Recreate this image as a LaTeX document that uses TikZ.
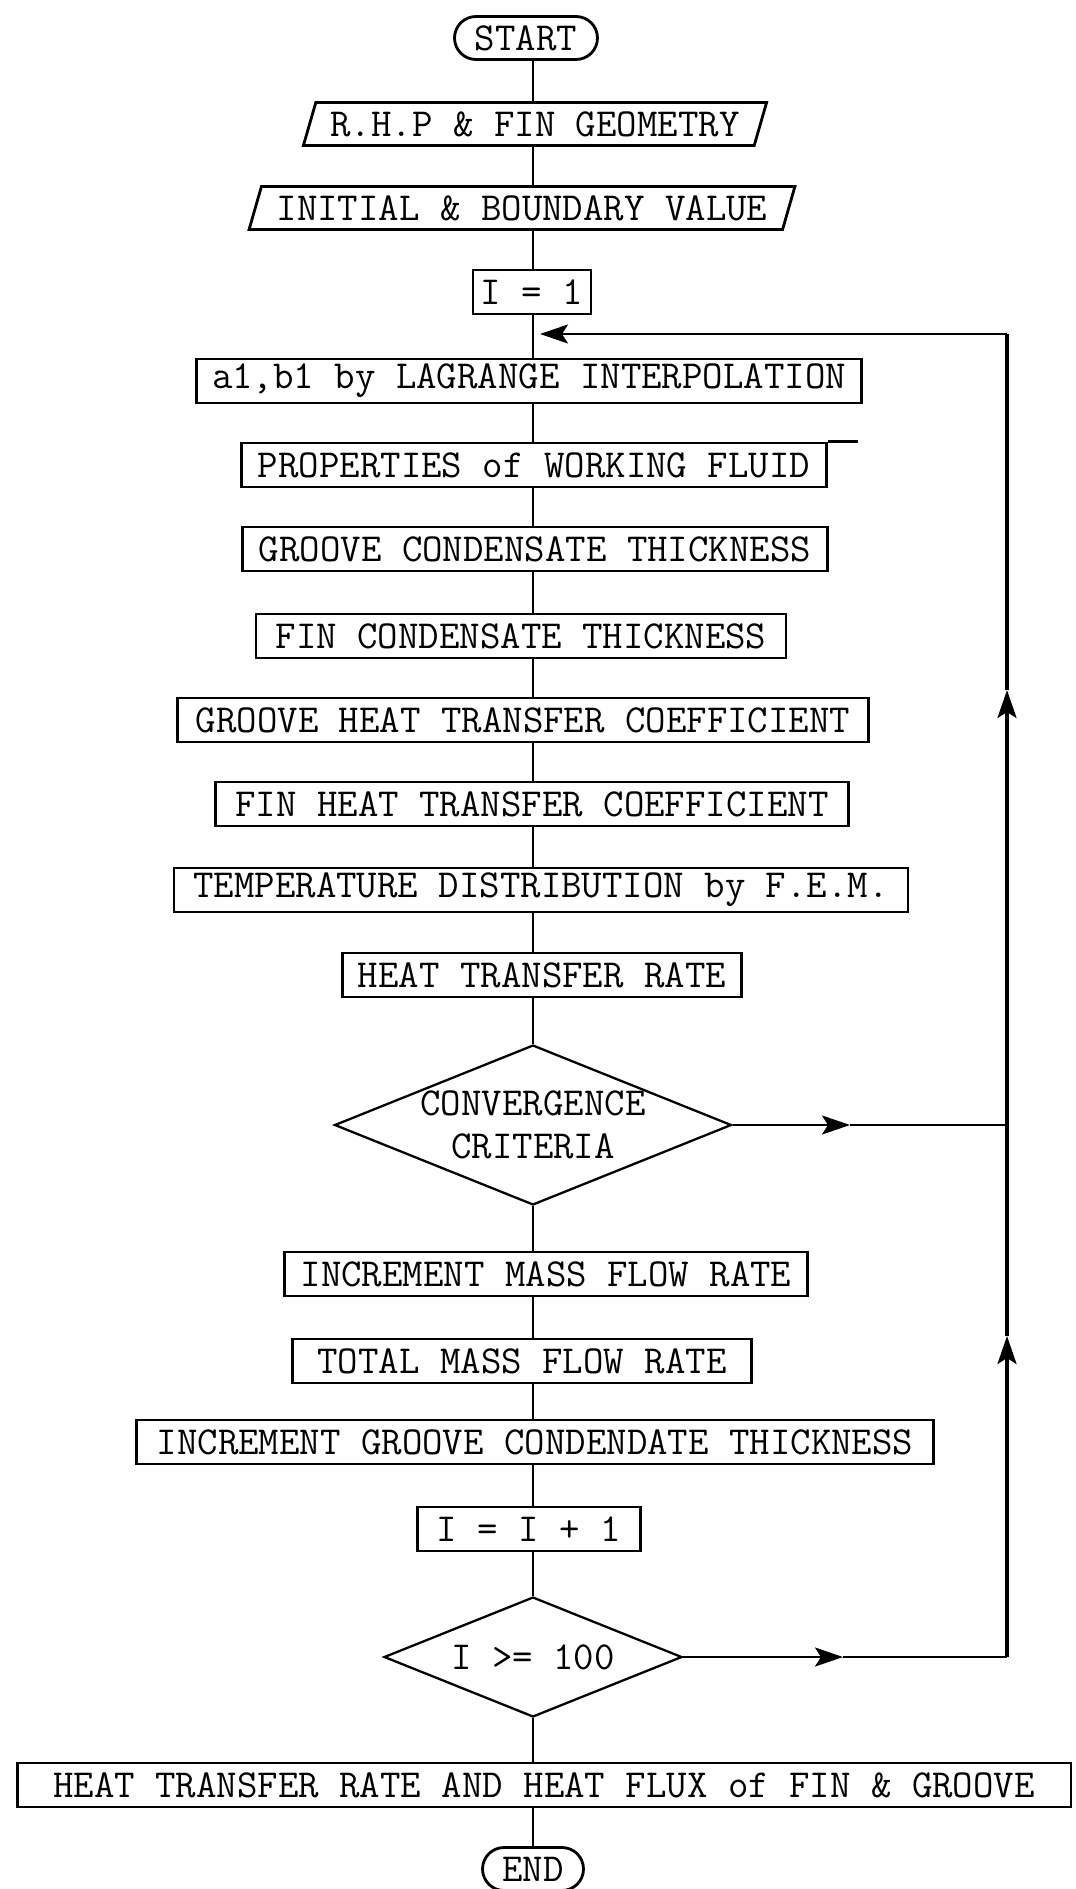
\documentclass[tikz,border=0pt]{standalone}
\usepackage{fontspec}
\usetikzlibrary{arrows.meta, shapes.geometric}
\newcommand{\flowfont}{\ttfamily\fontsize{22.6pt}{24.4pt}\selectfont}

\begin{document}
\begin{tikzpicture}[x=0.02cm, y=-0.02cm,
  >={Stealth[length=5.6mm, width=3.8mm, inset=1.2mm]},
  procbox/.style={draw, line width=1.6pt, minimum height=0.88cm,
    inner xsep=2pt, inner ysep=0pt, font=\flowfont},
  iobox/.style={draw, line width=1.6pt, trapezium, trapezium left angle=65,
    trapezium right angle=115, trapezium stretches=true,
    minimum height=0.86cm, inner xsep=2pt, inner ysep=0pt, font=\flowfont},
  termbox/.style={draw, line width=1.6pt, rounded corners=0.43cm,
    minimum height=0.86cm, inner sep=0pt, font=\flowfont},
  testbox/.style={draw, line width=1.3pt, diamond, shape aspect=2.5,
    inner sep=0pt, align=center, font=\flowfont},
  flow/.style={line width=1.3pt},
  loopline/.style={line width=1.8pt}]

% Page frame
\useasboundingbox (0,0) rectangle (1075,1889);

% Main column
\coordinate (spine) at (533,0);

% ============================================================
% Input and start
% ============================================================
\node[termbox, minimum width=2.86cm] (start) at (526,38) {START};
\node[iobox, minimum width=9.3cm] (rhp) at (535,124) {R.H.P \& FIN GEOMETRY};
\node[iobox, minimum width=10.96cm] (init) at (522,208) {INITIAL \& BOUNDARY VALUE};
\node[procbox, minimum width=2.36cm] (ione) at (532,292) {I = 1};

% ============================================================
% Iteration body
% ============================================================
\node[procbox, minimum width=13.3cm] (lagr) at (529,381) {a1,b1 by LAGRANGE INTERPOLATION};
\node[procbox, minimum width=11.7cm] (prop) at (534,465) {PROPERTIES of WORKING FLUID};
\node[procbox, minimum width=11.7cm] (gcond) at (535,549) {GROOVE CONDENSATE THICKNESS};
\node[procbox, minimum width=10.6cm] (fcond) at (521,636) {FIN CONDENSATE THICKNESS};
\node[procbox, minimum width=13.82cm] (ghtc) at (523,720) {GROOVE HEAT TRANSFER COEFFICIENT};
\node[procbox, minimum width=12.66cm] (fhtc) at (532,804) {FIN HEAT TRANSFER COEFFICIENT};
\node[procbox, minimum width=14.68cm] (temp) at (541,890) {TEMPERATURE DISTRIBUTION by F.E.M.};
\node[procbox, minimum width=7.98cm] (htr) at (542,975) {HEAT TRANSFER RATE};

% Convergence test
\node[testbox, minimum width=7.94cm, minimum height=3.2cm] (conv) at (533,1125)
  {\makebox[0pt]{CONVERGENCE}\\\makebox[0pt]{CRITERIA}};

% ============================================================
% Update and counter
% ============================================================
\node[procbox, minimum width=10.46cm] (incm) at (546,1274) {INCREMENT MASS FLOW RATE};
\node[procbox, minimum width=9.18cm] (total) at (522,1361) {TOTAL MASS FLOW RATE};
\node[procbox, minimum width=15.94cm] (incg) at (535,1442) {INCREMENT GROOVE CONDENDATE THICKNESS};
\node[procbox, minimum width=4.46cm] (iinc) at (529,1529) {I = I + 1};

% Counter limit
\node[testbox, minimum width=5.96cm, minimum height=2.4cm] (limit) at (533,1657)
  {\makebox[0pt]{I >= 100}};

% ============================================================
% Output and end
% ============================================================
\node[procbox, minimum width=21.08cm] (final) at (544,1785)
  {HEAT TRANSFER RATE AND HEAT FLUX of FIN \& GROOVE};
\node[termbox, minimum width=2.02cm] (stop) at (533,1869) {END};

% stray stroke on the properties box
\draw[flow] (prop.north east) -- ++(30,0);

% Main column connectors
\foreach \a/\b in {start/rhp, rhp/init, init/ione, ione/lagr, lagr/prop,
    prop/gcond, gcond/fcond, fcond/ghtc, ghtc/fhtc, fhtc/temp, temp/htr,
    htr/conv, conv/incm, incm/total, total/incg, incg/iinc, iinc/limit,
    limit/final, final/stop}
  \draw[flow] (\a.south -| spine) -- (\b.north -| spine);

% ============================================================
% Return loop on the right
% ============================================================
\coordinate (loopTop) at (1007,334);
\coordinate (loopJoin) at (540,334);
\coordinate (loopMid) at (1007,1125);
\coordinate (loopBot) at (1007,1657);
\coordinate (upArrA) at (1007,690);
\coordinate (upArrB) at (1007,1336);
\coordinate (arrConv) at (850,1125);
\coordinate (arrLim) at (843,1657);

\draw[flow, ->] (conv.east) -- (arrConv);
\draw[flow] (arrConv) -- (loopMid);
\draw[flow, ->] (limit.east) -- (arrLim);
\draw[flow] (arrLim) -- (loopBot);

\draw[loopline, ->] (loopBot) -- (upArrB);
\draw[loopline, ->] (upArrB) -- (upArrA);
\draw[loopline] (upArrA) -- (loopTop);
\draw[flow, ->] (loopTop) -- (loopJoin);

\end{tikzpicture}
\end{document}
